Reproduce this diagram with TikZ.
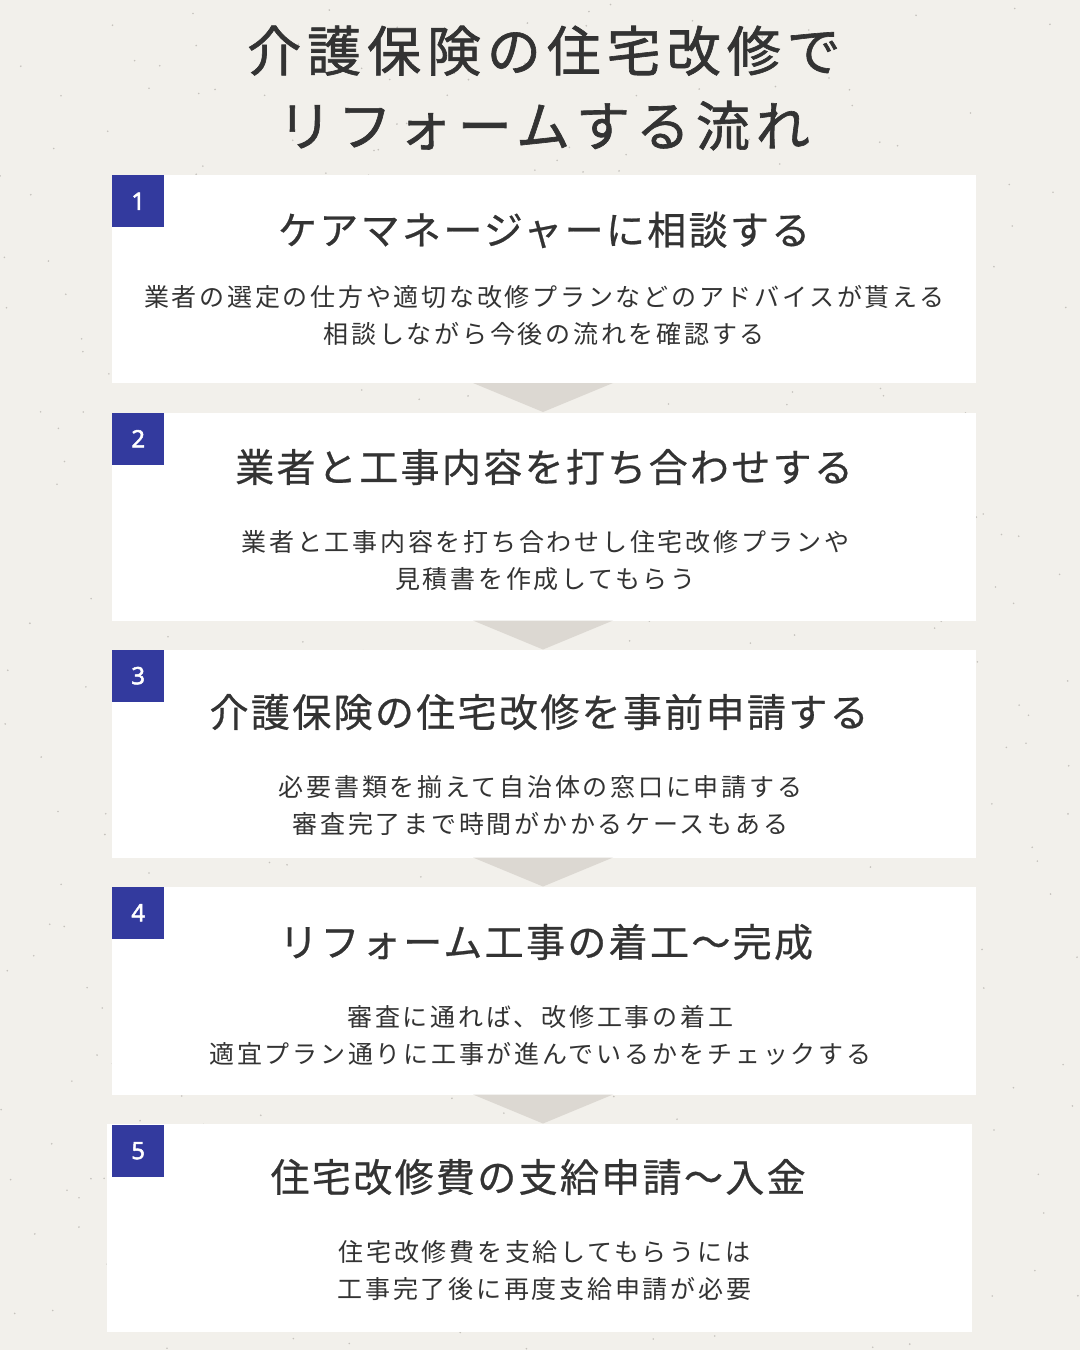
\documentclass[tikz,border=0pt]{standalone}
\usepackage{fontspec}
\usetikzlibrary{calc}
\newfontfamily\jpbody[LetterSpace=11]{Noto Sans CJK JP}
\newfontfamily\jphead[LetterSpace=6,FakeBold=0.6]{Noto Sans CJK JP}
\newfontfamily\jptitle[LetterSpace=11,FakeBold=1.2]{Noto Sans CJK JP}
\newfontfamily\numfont[FakeBold=2]{Noto Sans}
\definecolor{bg}{HTML}{F2F0EB}
\definecolor{badge}{HTML}{333A9E}
\definecolor{ink}{HTML}{333333}
\definecolor{tri}{HTML}{DCD8D2}
\definecolor{speck}{HTML}{A8A49E}
\tikzset{
  card/.style={fill=white, draw=none, minimum width=864, minimum height=208, inner sep=0, outer sep=0},
  numbox/.style={fill=badge, minimum width=52, minimum height=52, inner sep=0, anchor=north west, text=white, font={\numfont\fontsize{24}{24}\selectfont}},
  heading/.style={text=ink, inner sep=0, font={\jphead\fontsize{39}{39}\selectfont}},
  body/.style={text=ink, inner sep=0, align=center, font={\jpbody\fontsize{25}{37}\selectfont}},
  titletext/.style={text=ink, inner sep=0, align=center, font={\jptitle\fontsize{54}{75}\selectfont}},
  chevron/.style={fill=tri, draw=none}
}
\newcommand{\hk}{\kern-2.3pt}
\newcommand{\bk}{\kern-2.75pt}
\begin{document}
\begin{tikzpicture}[x=1pt,y=-1pt]
\useasboundingbox (0,0) rectangle (1080,1350);
\fill[bg] (0,0) rectangle (1080,1350);
\pgfmathsetseed{7}
\foreach \i in {1,...,500}{
  \pgfmathsetmacro\px{1080*rnd}
  \pgfmathsetmacro\py{1350*rnd}
  \fill[speck, opacity=0.6] (\px,\py) circle (0.9);
}

\node[titletext] (title) at (541,88) {介護保険の住宅改修で\kern-5.9pt\\リフォームする流れ\kern-5.9pt};

% cards
\node[card] (b1) at (544,279) {};
\node[card] (b2) at (544,516.5) {};
\node[card] (b3) at (544,753.5) {};
\node[card] (b4) at (544,990.5) {};
\node[card, minimum width=865] (b5) at (539.5,1227.5) {};

% chevrons
\foreach \b in {b1,b2,b3,b4}{
  \fill[chevron] ($(\b.south)+(-71,0)$) -- ($(\b.south)+(69,0)$) -- ($(\b.south)+(-1,29)$) -- cycle;
}

% badges
\node[numbox] (n1) at (b1.north west) {1};
\node[numbox] (n2) at (b2.north west) {2};
\node[numbox] (n3) at (b3.north west) {3};
\node[numbox] (n4) at (b4.north west) {4};
\node[numbox] (n5) at ($(b5.north west)+(5,1)$) {5};

% headings
\node[heading] (h1) at (543,230) {ケアマネージャーに相談する\hk};
\node[heading] (h2) at (543,467) {業者と工事内容を打ち合わせする\hk};
\node[heading] (h3) at (538,712) {介護保険の住宅改修を事前申請する\hk};
\node[heading] (h4) at (545,942) {リフォーム工事の着工〜完成\hk};
\node[heading] (h5) at (537,1177) {住宅改修費の支給申請〜入金\hk};

% bodies
\node[body] (t1) at (543,315.5) {業者の選定の仕方や適切な改修プランなどのアドバイスが貰える\bk\\相談しながら今後の流れを確認する\bk};
\node[body] (t2) at (544,560.5) {業者と工事内容を打ち合わせし住宅改修プランや\bk\\見積書を作成してもらう\bk};
\node[body] (t3) at (539,805.5) {必要書類を揃えて自治体の窓口に申請する\bk\\審査完了まで時間がかかるケースもある\bk};
\node[body] (t4) at (539,1035.5) {審査に通れば、改修工事の着工\bk\\適宜プラン通りに工事が進んでいるかをチェックする\bk};
\node[body] (t5) at (543,1270.5) {住宅改修費を支給してもらうには\bk\\工事完了後に再度支給申請が必要\bk};
\end{tikzpicture}
\end{document}
